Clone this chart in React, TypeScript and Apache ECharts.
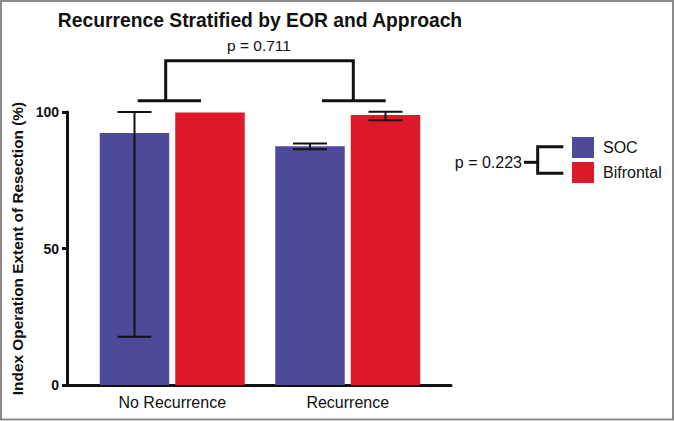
import React, { useEffect, useRef } from "react";
import * as echarts from "echarts";

const categories = ["No Recurrence", "Recurrence"];
const seriesNames = ["SOC", "Bifrontal"];
const socMeans = [92.3, 87.5];
const bifrontalMeans = [99.8, 98.9];
// error bars: [low, high] per category (null = none)
const socErr: ([number, number] | null)[] = [[17.7, 100], [86.4, 88.5]];
const bifrontalErr: ([number, number] | null)[] = [null, [97.0, 100.1]];
const yTicks = [0, 50, 100];
const pBetween = "p = 0.711";
const pApproach = "p = 0.223";

const SOC_COLOR = "#4c4a99";
const BIF_COLOR = "#dc1a2b";
const FONT = "Liberation Sans, Arial, Helvetica, sans-serif";

const BAR_W = 69.5;
const BAR_GAP_PX = 6;
const OFFSET = (BAR_W + BAR_GAP_PX) / 2;

function errData(err: ([number, number] | null)[]) {
  const out: any[] = [];
  err.forEach((e, i) => {
    if (e) out.push([i, e[0], e[1]]);
  });
  return out;
}

function errSeries(name: string, err: ([number, number] | null)[], offset: number, capW: number) {
  return {
    type: "custom",
    name: name + "-err",
    xAxisIndex: 1,
    yAxisIndex: 1,
    silent: true,
    z: 5,
    data: errData(err),
    renderItem: (params: any, api: any) => {
      const lo = api.coord([api.value(0), api.value(1)]);
      const hi = api.coord([api.value(0), api.value(2)]);
      const x = lo[0] + offset;
      const style = { stroke: "#111", lineWidth: 2 };
      return {
        type: "group",
        children: [
          { type: "line", shape: { x1: x, y1: lo[1], x2: x, y2: hi[1] }, style },
          { type: "line", shape: { x1: x - capW / 2, y1: lo[1], x2: x + capW / 2, y2: lo[1] }, style },
          { type: "line", shape: { x1: x - capW / 2, y1: hi[1], x2: x + capW / 2, y2: hi[1] }, style },
        ],
      };
    },
  };
}

export default function App() {
  const ref = useRef<HTMLDivElement>(null);
  useEffect(() => {
    if (!ref.current) return;
    const chart = echarts.init(ref.current, undefined, { renderer: "svg" });
    const bracketStyle = { stroke: "#111", lineWidth: 3, fill: "none" };
    chart.setOption({
      animation: false,
      backgroundColor: "#ffffff",
      textStyle: { fontFamily: FONT },
      legend: {
        orient: "vertical",
        left: 572,
        top: 137,
        padding: 0,
        itemWidth: 22,
        itemHeight: 21,
        itemGap: 4,
        icon: "rect",
        data: seriesNames,
        textStyle: { fontSize: 16, color: "#111", fontFamily: FONT, padding: [0, 0, 0, 4] },
      },
      grid: [
        { left: 67, top: 112, width: 384, height: 273 },
        { left: 84.5, top: 30.1, width: 351, height: 354.9 },
      ],
      xAxis: [
        {
          type: "category",
          gridIndex: 0,
          data: categories,
          axisLine: { show: true, lineStyle: { color: "#111", width: 3 } },
          axisTick: { show: false },
          axisLabel: { show: false },
        },
        {
          type: "category",
          gridIndex: 1,
          data: categories,
          axisLine: { show: false },
          axisTick: { show: false },
          axisLabel: { show: true, margin: 9, fontSize: 16, color: "#111", fontFamily: FONT },
        },
      ],
      yAxis: [
        {
          type: "value",
          gridIndex: 0,
          min: yTicks[0],
          max: yTicks[yTicks.length - 1],
          interval: 50,
          name: "Index Operation Extent of Resection (%)",
          nameLocation: "middle",
          nameGap: 36,
          nameTextStyle: { fontSize: 15.4, fontWeight: "bold", color: "#111", fontFamily: FONT },
          axisLine: { show: true, lineStyle: { color: "#111", width: 3 } },
          axisTick: { show: true, length: 5, lineStyle: { color: "#111", width: 3 } },
          axisLabel: { fontSize: 14, fontWeight: "bold", color: "#111", margin: 8, fontFamily: FONT },
          splitLine: { show: false },
        },
        {
          type: "value",
          gridIndex: 1,
          min: 0,
          max: 130,
          show: false,
          splitLine: { show: false },
        },
      ],
      series: [
        {
          type: "bar",
          name: seriesNames[0],
          xAxisIndex: 1,
          yAxisIndex: 1,
          data: socMeans,
          barWidth: BAR_W,
          barGap: ((BAR_GAP_PX / BAR_W) * 100).toFixed(2) + "%",
          itemStyle: { color: SOC_COLOR },
        },
        {
          type: "bar",
          name: seriesNames[1],
          xAxisIndex: 1,
          yAxisIndex: 1,
          data: bifrontalMeans,
          barWidth: BAR_W,
          barGap: ((BAR_GAP_PX / BAR_W) * 100).toFixed(2) + "%",
          itemStyle: { color: BIF_COLOR },
        },
        errSeries(seriesNames[0], socErr, -OFFSET, 34),
        errSeries(seriesNames[1], bifrontalErr, OFFSET, 34),
      ],
      graphic: [
        {
          type: "rect",
          shape: { x: 1, y: 1, width: 672, height: 418.5 },
          style: { fill: "none", stroke: "#8a8a8a", lineWidth: 2 },
          silent: true,
        },
        {
          type: "text",
          x: 260,
          y: 20.5,
          style: {
            text: "Recurrence Stratified by EOR and Approach",
            fontSize: 19.3,
            fontWeight: "bold",
            fontFamily: FONT,
            fill: "#111",
            textAlign: "center",
            textVerticalAlign: "middle",
          },
        },
        {
          type: "text",
          x: 259,
          y: 45,
          style: {
            text: pBetween,
            fontSize: 15.5,
            fontFamily: FONT,
            fill: "#111",
            textAlign: "center",
            textVerticalAlign: "middle",
          },
        },
        { type: "line", shape: { x1: 137.7, y1: 100.7, x2: 201, y2: 100.7 }, style: bracketStyle },
        { type: "line", shape: { x1: 322, y1: 100.7, x2: 385.7, y2: 100.7 }, style: bracketStyle },
        {
          type: "polyline",
          shape: { points: [[165.7, 100.7], [165.7, 60.7], [353.3, 60.7], [353.3, 100.7]] },
          style: bracketStyle,
        },
        {
          type: "text",
          x: 522,
          y: 162.7,
          style: {
            text: pApproach,
            fontSize: 16,
            fontFamily: FONT,
            fill: "#111",
            textAlign: "right",
            textVerticalAlign: "middle",
          },
        },
        { type: "line", shape: { x1: 524, y1: 162.3, x2: 537.7, y2: 162.3 }, style: bracketStyle },
        {
          type: "polyline",
          shape: { points: [[563.3, 146.7], [537.7, 146.7], [537.7, 173.3], [563.3, 173.3]] },
          style: bracketStyle,
        },
      ],
    });
    return () => chart.dispose();
  }, []);
  return (
    <div
      ref={ref}
      style={{ position: "absolute", left: 0, top: 0, width: 674, height: 421 }}
    />
  );
}
